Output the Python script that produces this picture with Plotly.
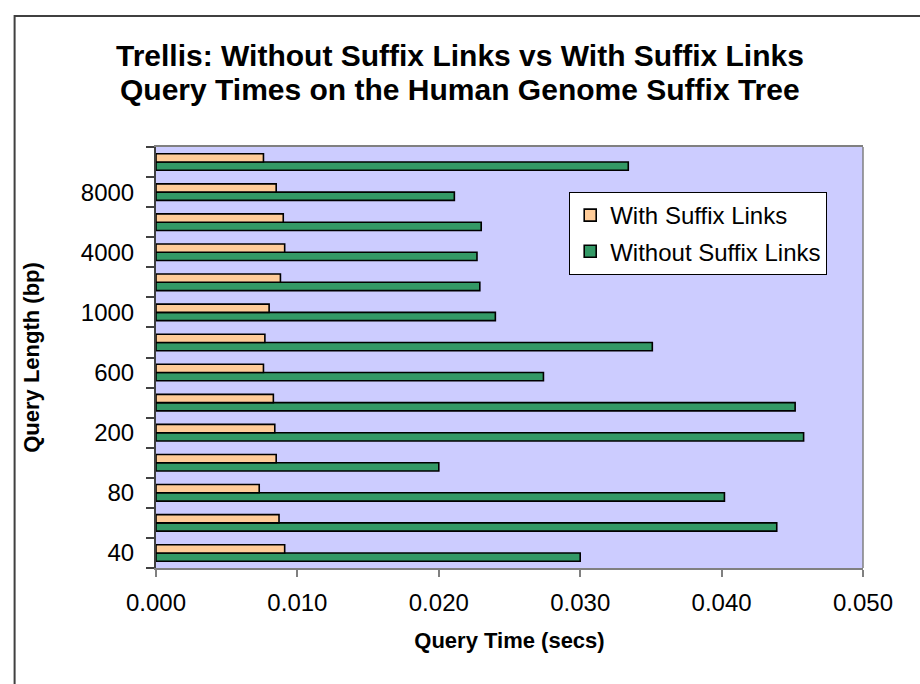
import plotly.graph_objects as go

# Query lengths (bp), bottom to top
query_lengths = ["40", "60", "80", "100", "200", "400", "600",
                 "800", "1000", "2000", "4000", "6000", "8000", "10000"]
# Only every other length is labelled on the axis
shown_labels = ["40", "80", "200", "600", "1000", "4000", "8000"]

with_links = [0.0091, 0.0087, 0.0073, 0.0085, 0.0084, 0.0083, 0.0076,
              0.0077, 0.0080, 0.0088, 0.0091, 0.0090, 0.0085, 0.0076]
without_links = [0.0300, 0.0439, 0.0402, 0.0200, 0.0458, 0.0452, 0.0274,
                 0.0351, 0.0240, 0.0229, 0.0227, 0.0230, 0.0211, 0.0334]

title_lines = ["Trellis: Without Suffix Links vs With Suffix Links",
               "Query Times on the Human Genome Suffix Tree"]

FONT = "Arial, Liberation Sans, sans-serif"
W, H = 920, 684
L, R, T, B = 155.5, 57, 147, 116
PW, PH = W - L - R, H - T - B


def px(x):
    return (x - L) / PW


def py(y):
    return (H - B - y) / PH


fig = go.Figure()
fig.add_trace(go.Bar(
    y=query_lengths, x=without_links, orientation="h",
    name="Without Suffix Links", legendrank=2, legendgroup="b",
    marker=dict(color="#339966", line=dict(color="black", width=1.6)),
))
fig.add_trace(go.Bar(
    y=query_lengths, x=with_links, orientation="h",
    name="With Suffix Links", legendrank=1, legendgroup="a",
    marker=dict(color="#FFCC99", line=dict(color="black", width=1.6)),
))

ticktext = [c if c in shown_labels else "" for c in query_lengths]

annotations = [
    dict(text="<b>%s</b>" % line, x=px(460), xref="paper",
         xanchor="center", y=py(yc), yref="paper", yanchor="middle",
         showarrow=False, font=dict(family=FONT, size=30, color="black"))
    for line, yc in zip(title_lines, [56, 89])
]

fig.update_layout(
    width=W, height=H,
    margin=dict(l=L, r=R, t=T, b=B),
    paper_bgcolor="white",
    plot_bgcolor="#CCCCFF",
    barmode="group",
    bargap=0.45,
    bargroupgap=0,
    font=dict(family=FONT, size=24, color="black"),
    annotations=annotations,
    xaxis=dict(
        range=[0, 0.05], dtick=0.01, tickformat=".3f",
        showgrid=False, zeroline=False,
        showline=True, linecolor="#808080", linewidth=1.5, mirror=True,
        ticks="outside", ticklen=7, tickcolor="#808080", tickwidth=1.5,
        ticklabelstandoff=5,
        tickfont=dict(size=24),
        title=dict(text="<b>Query Time (secs)</b>", font=dict(size=22), standoff=18),
    ),
    yaxis=dict(
        type="category",
        categoryorder="array", categoryarray=query_lengths,
        tickmode="array", tickvals=query_lengths, ticktext=ticktext,
        tickson="boundaries",
        showgrid=False, zeroline=False,
        showline=True, linecolor="#404040", linewidth=2,
        ticks="outside", ticklen=8, tickcolor="#404040", tickwidth=1.5,
        ticklabelstandoff=15,
        tickfont=dict(size=24),
        title=dict(text="<b>Query Length (bp)</b>", font=dict(size=22), standoff=35),
    ),
    legend=dict(
        x=px(569), y=py(192), xanchor="left", yanchor="top",
        bgcolor="white", bordercolor="black", borderwidth=1,
        traceorder="grouped", tracegroupgap=2,
        font=dict(size=24),
        itemwidth=30,
    ),
    shapes=[
        # outer chart frame
        dict(type="rect", xref="paper", yref="paper",
             x0=px(14), x1=px(930), y0=py(16), y1=py(700),
             line=dict(color="#404040", width=2), layer="below"),
        # right edge of plot area
        dict(type="line", xref="paper", yref="paper",
             x0=1, x1=1, y0=0, y1=1,
             line=dict(color="#808080", width=1.5)),
    ],
)

fig.write_html("out.html")
